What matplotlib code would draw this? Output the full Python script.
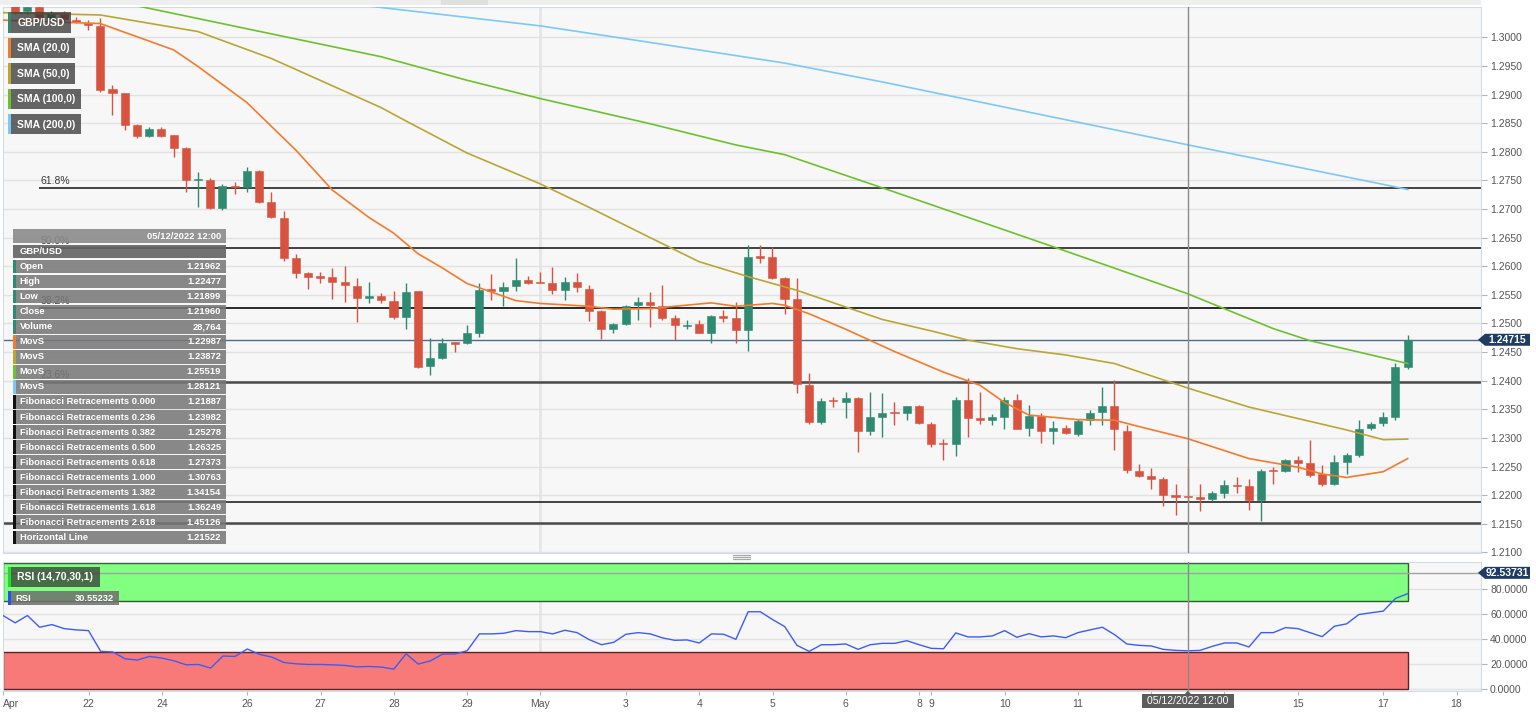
import numpy as np
import matplotlib

matplotlib.use('agg')
import matplotlib.pyplot as plt
from matplotlib.patches import Rectangle, Polygon

plt.rcParams['font.family'] = ['Liberation Sans', 'DejaVu Sans']

# 4h candles, index 0 = 22 Apr 00:00, first candle at index -6
first_idx = -6
opens = [1.3058, 1.3046, 1.3053, 1.3030, 1.3042, 1.3030, 1.3025, 1.3020, 1.2909, 1.2902,
         1.2846, 1.2828, 1.2839, 1.2829, 1.2806, 1.2750, 1.2751, 1.2701, 1.2741, 1.2739,
         1.2766, 1.2713, 1.2685, 1.2615, 1.2588, 1.2582, 1.2581, 1.2572, 1.2566, 1.2545,
         1.2548, 1.2539, 1.2512, 1.2556, 1.2426, 1.2439, 1.2467, 1.2466, 1.2484, 1.2560,
         1.2556, 1.2565, 1.2576, 1.2573, 1.2571, 1.2559, 1.2573, 1.2561, 1.2521, 1.2490,
         1.2499, 1.2532, 1.2537, 1.2530, 1.2509, 1.2496, 1.2499, 1.2484, 1.2513, 1.2510,
         1.2488, 1.2618, 1.2617, 1.2580, 1.2542, 1.2393, 1.2328, 1.2365, 1.2363, 1.2369,
         1.2313, 1.2337, 1.2345, 1.2343, 1.2355, 1.2325, 1.2291, 1.2289, 1.2366, 1.2334,
         1.2331, 1.2336, 1.2367, 1.2317, 1.2338, 1.2313, 1.2318, 1.2307, 1.2331, 1.2345,
         1.2355, 1.2313, 1.2242, 1.2234, 1.2228, 1.2201, 1.21962, 1.2195, 1.2194, 1.2204,
         1.2217, 1.2216, 1.2191, 1.2244, 1.2242, 1.2261, 1.2256, 1.2237, 1.2219, 1.2258,
         1.2270, 1.2318, 1.2326, 1.2336, 1.2424]
highs = [1.3070, 1.3062, 1.3076, 1.3046, 1.3046, 1.3035, 1.3030, 1.3034, 1.2917, 1.2902,
         1.2848, 1.2844, 1.2844, 1.2830, 1.2809, 1.2765, 1.2754, 1.2743, 1.2747, 1.2774,
         1.2768, 1.2730, 1.2697, 1.2621, 1.2590, 1.2590, 1.2597, 1.2601, 1.2579, 1.2573,
         1.2553, 1.2556, 1.2570, 1.2557, 1.2475, 1.2474, 1.2468, 1.2497, 1.2570, 1.2587,
         1.2573, 1.2615, 1.2583, 1.2590, 1.2599, 1.2582, 1.2588, 1.2567, 1.2523, 1.2500,
         1.2533, 1.2547, 1.2555, 1.2567, 1.2514, 1.2506, 1.2506, 1.2515, 1.2523, 1.2538,
         1.2637, 1.2637, 1.2634, 1.2581, 1.2579, 1.2414, 1.2369, 1.2372, 1.2380, 1.2372,
         1.2380, 1.2378, 1.2363, 1.2356, 1.2357, 1.2328, 1.2299, 1.2372, 1.2405, 1.2380,
         1.2341, 1.2372, 1.2376, 1.2357, 1.2343, 1.2330, 1.2322, 1.2333, 1.2348, 1.2389,
         1.2401, 1.2322, 1.2255, 1.2248, 1.2232, 1.2219, 1.22477, 1.2220, 1.2207, 1.2226,
         1.2232, 1.2229, 1.2245, 1.2249, 1.2264, 1.2268, 1.2297, 1.2252, 1.2271, 1.2274,
         1.2331, 1.2328, 1.2345, 1.2431, 1.2480]
lows = [1.3040, 1.3040, 1.3033, 1.3027, 1.3028, 1.3025, 1.3012, 1.2904, 1.2864, 1.2838,
        1.2824, 1.2826, 1.2826, 1.2791, 1.2730, 1.2704, 1.2700, 1.2698, 1.2727, 1.2730,
        1.2711, 1.2684, 1.2609, 1.2580, 1.2561, 1.2570, 1.2542, 1.2537, 1.2503, 1.2535,
        1.2536, 1.2508, 1.2491, 1.2422, 1.2410, 1.2438, 1.2450, 1.2464, 1.2477, 1.2541,
        1.2530, 1.2556, 1.2569, 1.2571, 1.2552, 1.2541, 1.2555, 1.2504, 1.2473, 1.2484,
        1.2497, 1.2506, 1.2493, 1.2506, 1.2471, 1.2490, 1.2484, 1.2466, 1.2503, 1.2466,
        1.2452, 1.2606, 1.2577, 1.2517, 1.2379, 1.2325, 1.2325, 1.2354, 1.2334, 1.2276,
        1.2306, 1.2301, 1.2322, 1.2332, 1.2324, 1.2284, 1.2261, 1.2268, 1.2301, 1.2325,
        1.2323, 1.2316, 1.2316, 1.2303, 1.2291, 1.2290, 1.2307, 1.2304, 1.2322, 1.2323,
        1.2279, 1.2239, 1.2231, 1.2210, 1.2181, 1.2165, 1.21899, 1.2173, 1.2190, 1.2195,
        1.2203, 1.2174, 1.2155, 1.2220, 1.2240, 1.2240, 1.2232, 1.2216, 1.2218, 1.2237,
        1.2267, 1.2314, 1.2320, 1.2332, 1.2421]
closes = [1.3044, 1.3053, 1.3035, 1.3042, 1.3032, 1.3026, 1.3022, 1.2908, 1.2903, 1.2847,
          1.2828, 1.2839, 1.2828, 1.2806, 1.2751, 1.2752, 1.2701, 1.2740, 1.2738, 1.2766,
          1.2713, 1.2686, 1.2614, 1.2588, 1.2581, 1.2580, 1.2573, 1.2567, 1.2545, 1.2548,
          1.2541, 1.2512, 1.2555, 1.2424, 1.2439, 1.2466, 1.2465, 1.2483, 1.2559, 1.2557,
          1.2564, 1.2576, 1.2571, 1.2571, 1.2559, 1.2573, 1.2563, 1.2521, 1.2490, 1.2499,
          1.2531, 1.2538, 1.2532, 1.2510, 1.2497, 1.2498, 1.2484, 1.2513, 1.2510, 1.2488,
          1.2616, 1.2614, 1.2580, 1.2542, 1.2395, 1.2328, 1.2365, 1.2364, 1.2369, 1.2313,
          1.2336, 1.2344, 1.2343, 1.2355, 1.2326, 1.2290, 1.2289, 1.2366, 1.2334, 1.2332,
          1.2336, 1.2367, 1.2316, 1.2338, 1.2313, 1.2317, 1.2308, 1.2330, 1.2344, 1.2355,
          1.2315, 1.2244, 1.2233, 1.2229, 1.2201, 1.2197, 1.21960, 1.2194, 1.2204, 1.2217,
          1.2216, 1.2191, 1.2242, 1.2242, 1.2261, 1.2256, 1.2235, 1.2219, 1.2258, 1.2270,
          1.2316, 1.2325, 1.2336, 1.2424, 1.24715]

# moving averages read at a few candle positions
sma20_idx = [-7, 1, 7, 9, 13, 17, 20, 23, 25, 27, 29, 31, 33, 35, 37, 41, 43, 46, 49, 51,
             53, 56, 57, 59, 62, 66, 70, 73, 75, 77, 81, 84, 86, 90, 95, 99, 101, 103, 106, 108]
sma20_val = [1.3030, 1.3024, 1.2978, 1.2949, 1.2886, 1.2803, 1.2733, 1.2685, 1.2658, 1.2622,
             1.2597, 1.2570, 1.2555, 1.2540, 1.2535, 1.2530, 1.2525, 1.2526, 1.2532, 1.2536,
             1.2530, 1.2535, 1.2532, 1.2517, 1.2490, 1.2451, 1.2415, 1.2392, 1.2362, 1.2340,
             1.2332, 1.2331, 1.2320, 1.22987, 1.2264, 1.2249, 1.2237, 1.2231, 1.2241, 1.2264]
sma50_idx = [-7, 1, 9, 15, 24, 26, 31, 37, 41, 46, 50, 54, 58, 65, 69, 72, 76, 80, 84, 90,
             95, 99, 103, 106, 108]
sma50_val = [1.3043, 1.3039, 1.3010, 1.2963, 1.2877, 1.2854, 1.2798, 1.2744, 1.2703, 1.2650,
             1.2608, 1.2582, 1.2558, 1.2507, 1.2487, 1.2471, 1.2456, 1.2445, 1.2430, 1.23872,
             1.2354, 1.2334, 1.2314, 1.2297, 1.2298]
sma100_idx = [4, 15, 24, 31, 37, 46, 53, 57, 65, 79, 90, 97, 100, 108]
sma100_val = [1.3055, 1.3006, 1.2966, 1.2925, 1.2893, 1.2849, 1.2812, 1.2795, 1.2737, 1.2634,
              1.25519, 1.2491, 1.2470, 1.2430]
sma200_idx = [17, 24, 37, 46, 57, 65, 90, 106, 108]
sma200_val = [1.3070, 1.3052, 1.3020, 1.2991, 1.2955, 1.2922, 1.28121, 1.2743, 1.2734]

rsi_first = -7
rsi = [58.6, 52.8, 58.6, 49.3, 51.4, 48.2, 47.2, 46.6, 30.1, 29.6,
       24.2, 23.2, 26.1, 24.8, 22.6, 19.4, 19.7, 16.8, 26.4, 26.1,
       32.0, 27.7, 25.6, 21.3, 20.2, 19.7, 19.7, 19.4, 18.9, 17.8,
       18.1, 17.6, 16.0, 28.2, 20.0, 22.6, 28.0, 28.0, 30.6, 44.0,
       44.0, 44.5, 46.6, 45.8, 45.8, 44.0, 46.9, 45.0, 39.4, 35.4,
       37.3, 43.7, 45.0, 44.0, 40.8, 38.9, 39.2, 36.8, 44.0, 43.7,
       39.7, 61.6, 61.6, 55.4, 49.8, 34.9, 30.1, 35.4, 35.4, 36.0,
       31.7, 35.4, 36.5, 36.5, 38.6, 35.4, 32.5, 32.2, 44.8, 41.6,
       41.6, 42.4, 46.6, 41.3, 44.2, 41.6, 42.4, 41.0, 45.0, 47.2,
       49.3, 43.4, 36.0, 34.9, 34.4, 31.7, 30.9, 30.55232, 30.9, 34.1,
       36.8, 36.8, 33.6, 45.0, 45.0, 49.0, 48.2, 45.0, 41.8, 50.1,
       52.0, 59.4, 60.8, 62.1, 72.2, 76.0]
rsi_mark = 92.53731

fib_anchor = -4
fib_labels = ['0.0%', '23.6%', '38.2%', '50.0%', '61.8%']
fib_levels = [1.21887, 1.23982, 1.25278, 1.26325, 1.27373]
hline_level = 1.21522
last_price = 1.24715
cross_idx = 90
cross_label = '05/12/2022 12:00'

# 12 and 13 sit under the crosshair date tag, so their labels are not shown
tick_pos = [-7, 0, 6, 13, 19, 25, 31, 37, 44, 50, 56, 62, 68, 69, 75, 81, 87, 93, 99, 106, 112]
tick_lab = ['Apr', '22', '24', '26', '27', '28', '29', 'May', '3', '4', '5', '6', '8', '9',
            '10', '11', '', '', '15', '17', '18']

legend_names = ['GBP/USD', 'SMA (20,0)', 'SMA (50,0)', 'SMA (100,0)', 'SMA (200,0)']
table_names = ['Open', 'High', 'Low', 'Close', 'Volume', 'MovS', 'MovS', 'MovS', 'MovS',
               'Fibonacci Retracements 0.000', 'Fibonacci Retracements 0.236',
               'Fibonacci Retracements 0.382', 'Fibonacci Retracements 0.500',
               'Fibonacci Retracements 0.618', 'Fibonacci Retracements 1.000',
               'Fibonacci Retracements 1.382', 'Fibonacci Retracements 1.618',
               'Fibonacci Retracements 2.618', 'Horizontal Line']
table_values = ['1.21962', '1.22477', '1.21899', '1.21960', '28,764', '1.22987', '1.23872',
                '1.25519', '1.28121', '1.21887', '1.23982', '1.25278', '1.26325', '1.27373',
                '1.30763', '1.34154', '1.36249', '1.45126', '1.21522']

RED = '#d8533f'
GREEN = '#2e8a70'
C_SMA = ['#f47a2c', '#b9a634', '#6cc12c', '#7cc8f6']
C_CANDLE = '#2e8a70'

W, H = 1536, 720
fig = plt.figure(figsize=(W / 100, H / 100), dpi=100)
fig.patch.set_facecolor('white')


def fbox(x0, y0, x1, y1):
    return [x0 / W, 1 - y1 / H, (x1 - x0) / W, (y1 - y0) / H]


def fig_rect(x0, y0, x1, y1, **kw):
    r = Rectangle((x0 / W, 1 - y1 / H), (x1 - x0) / W, (y1 - y0) / H,
                  transform=fig.transFigure, **kw)
    fig.add_artist(r)
    return r


def fig_text(x, y, s, **kw):
    return fig.text(x / W, 1 - y / H, s, **kw)


ax = fig.add_axes(fbox(3, 7.3, 1481, 552.7))
ax2 = fig.add_axes(fbox(3, 562.2, 1481, 690.5))
for a in (ax, ax2):
    a.set_facecolor('#f7f7f7')
    a.set_xlim(-6.96, 114.0)
    for s in a.spines.values():
        s.set_color('#d3dbe7')
    a.axvline(37, color='#e6e6e6', lw=2, zorder=0.5)
    a.yaxis.tick_right()
    a.tick_params(axis='y', length=4, width=0.8, color='#a9b6c8', labelsize=7.5,
                  labelcolor='#555555', pad=2.5)
ax.set_ylim(1.20995, 1.30524)

# candles
idx = np.arange(first_idx, first_idx + len(opens))
o, h, l, c = map(np.array, (opens, highs, lows, closes))
col = np.where(c >= o, GREEN, RED)
ax.vlines(idx, l, h, colors=col, lw=1.0, zorder=3)
body = np.maximum(np.abs(c - o), 0.00022)
ax.bar(idx, body, bottom=np.minimum(o, c), width=0.66, color=col, edgecolor=col,
       lw=0.4, zorder=4)

for xs, ys, cc in zip([sma20_idx, sma50_idx, sma100_idx, sma200_idx],
                      [sma20_val, sma50_val, sma100_val, sma200_val], C_SMA):
    ax.plot(xs, ys, color=cc, lw=1.2, zorder=5)

# fib levels + horizontal line
fib_style = {'0.0%': ('#111111', 1.1), '23.6%': ('#4a4a4a', 1.8), '38.2%': ('#2a2a2a', 1.4),
             '50.0%': ('#111111', 1.1), '61.8%': ('#111111', 1.1)}
for lab, lvl in zip(fib_labels, fib_levels):
    cc, lw = fib_style[lab]
    ax.hlines(lvl, fib_anchor, 114.0, color=cc, lw=lw, zorder=2)
    ax.text(fib_anchor + 0.1, lvl + 0.00025, lab, fontsize=7.5, color='#3a3a3a',
            ha='left', va='bottom', zorder=2)
ax.axhline(hline_level, color='#4a4a4a', lw=1.8, zorder=2)
ax.axhline(last_price, color='#4f6b8d', lw=1.0, zorder=2)
ax.axvline(cross_idx, color='#8a8a8a', lw=1.0, zorder=6)

ax.set_yticks(np.arange(1.21, 1.30001, 0.005))
ax.set_yticklabels(['%.4f' % v for v in np.arange(1.21, 1.30001, 0.005)])
ax.grid(axis='y', color='#e2e2e2', lw=1)
ax.set_axisbelow(True)
ax.tick_params(axis='x', bottom=False, labelbottom=False)

# RSI panel
ax2.set_ylim(-1, 101)
x_left = ax2.get_xlim()[0]
ax2.add_patch(Rectangle((x_left, 70), idx[-1] - x_left, 30, fc='#80ff80', ec='#2f5f2f',
                        lw=1.0, zorder=1))
ax2.add_patch(Rectangle((x_left, 0), idx[-1] - x_left, 30, fc='#f87a78', ec='#5e2424',
                        lw=1.0, zorder=1))
ax2.axhline(rsi_mark, color='#a3a3a3', lw=1.0, zorder=2)
ax2.plot(np.arange(rsi_first, rsi_first + len(rsi)), rsi, color='#3d5cf5', lw=1.0, zorder=3)
ax2.axvline(cross_idx, color='#8a8a8a', lw=1.0, zorder=4)
ax2.set_yticks([0, 20, 40, 60, 80])
ax2.set_yticklabels(['%.4f' % v for v in [0, 20, 40, 60, 80]])
ax2.grid(axis='y', color='#e2e2e2', lw=1)
ax2.set_axisbelow(True)
ax2.set_xticks(tick_pos)
ax2.set_xticklabels(tick_lab)
ax2.tick_params(axis='x', length=3, width=0.8, color='#a9b6c8', labelsize=7.5,
                labelcolor='#555555', pad=3)
ax2.get_xticklabels()[0].set_ha('left')

# top strip and panel grip
fig_rect(0, 0, 1481, 4.5, fc='#efefef', ec='none')
fig_rect(441, 0, 488, 4.5, fc='#e0e0e0', ec='none')
for gy in (555.2, 557.2, 559.2):
    fig.add_artist(plt.Line2D([733 / W, 750 / W], [1 - gy / H] * 2, color='#a8a8a8',
                              lw=0.9, transform=fig.transFigure))

# legend boxes
bar_cols = [C_CANDLE] + C_SMA
box_w = [62.4, 66.7, 66.7, 72.4, 72.4]
for k, (name, bc, bw) in enumerate(zip(legend_names, bar_cols, box_w)):
    y0 = 12.3 + k * 25.4
    fig_rect(8.3, y0, 8.3 + bw, y0 + 20.5, fc='#333333', alpha=0.75, ec='none', zorder=20)
    fig_rect(8.3, y0, 11.3, y0 + 20.5, fc=bc, ec='none', zorder=21)
    fig_text(17.3, y0 + 10.6, name, color='white', fontsize=7.5, fontweight='bold',
             va='center', ha='left', zorder=22)

# data window table
ty0, tpitch, th = 229.5, 15.05, 13.8
tx0, tx1 = 12.7, 226
fig_rect(tx0, ty0, tx1, ty0 + th, fc='#8b8b8b', alpha=0.9, ec='none', zorder=20)
fig_text(tx1 - 5, ty0 + th / 2, cross_label, color='white', fontsize=6.75,
         fontweight='bold', ha='right', va='center', zorder=22)
fig_rect(tx0, ty0 + tpitch, tx1, ty0 + tpitch + th, fc='#636363', alpha=0.9, ec='none',
         zorder=20)
fig_text(tx0 + 7, ty0 + tpitch + th / 2, legend_names[0], color='white', fontsize=6.75,
         fontweight='bold', ha='left', va='center', zorder=22)
row_cols = [C_CANDLE] * 5 + C_SMA + ['#111111'] * 10
for k, (name, val, bc) in enumerate(zip(table_names, table_values, row_cols)):
    y0 = ty0 + (k + 2) * tpitch
    fig_rect(tx0, y0, tx1, y0 + th, fc='#787878', alpha=0.87, ec='none', zorder=20)
    fig_rect(tx0, y0, tx0 + 3, y0 + th, fc=bc, ec='none', zorder=21)
    fig_text(tx0 + 7, y0 + th / 2, name, color='white', fontsize=6.75, fontweight='bold',
             ha='left', va='center', zorder=22)
    fig_text(tx1 - 5, y0 + th / 2, val, color='white', fontsize=6.75, fontweight='bold',
             ha='right', va='center', zorder=22)

# RSI legend boxes
fig_rect(8.3, 566.7, 100, 586.7, fc='#333333', alpha=0.72, ec='none', zorder=20)
fig_rect(8.3, 566.7, 11.3, 586.7, fc='#22dd22', ec='none', zorder=21)
fig_text(17.3, 577, 'RSI (14,70,30,1)', color='white', fontsize=7.5, fontweight='bold',
         ha='left', va='center', zorder=22)
fig_rect(8.3, 591, 119, 605, fc='#6e6e6e', alpha=0.85, ec='none', zorder=20)
fig_rect(8.3, 591, 11.3, 605, fc='#2b4cff', ec='none', zorder=21)
fig_text(15, 598.3, 'RSI', color='white', fontsize=6.75, fontweight='bold',
         ha='left', va='center', zorder=22)
fig_text(114, 598.3, '%.5f' % rsi[cross_idx - rsi_first], color='white', fontsize=6.75,
         fontweight='bold', ha='right', va='center', zorder=22)


def value_tag(a, value, text):
    yd = a.transData.transform((0, value))[1]
    y = H - yd
    pts = [(1478, y), (1485, y - 6), (1530, y - 6), (1530, y + 6), (1485, y + 6)]
    fig.add_artist(Polygon([(px / W, 1 - py / H) for px, py in pts], closed=True,
                           transform=fig.transFigure, fc='#1f3d62', ec='none', zorder=20))
    fig_text(1507, y, text, color='white', fontsize=7.5, fontweight='bold',
             ha='center', va='center', zorder=22)


value_tag(ax, last_price, '%.5f' % last_price)
value_tag(ax2, rsi_mark, '%.5f' % rsi_mark)

# crosshair date tag
xc = ax2.transData.transform((cross_idx, 0))[0]
fig.add_artist(Polygon([((xc - 3) / W, 1 - 694 / H), (xc / W, 1 - 690.5 / H),
                        ((xc + 3) / W, 1 - 694 / H)], closed=True,
                       transform=fig.transFigure, fc='#5c5c5c', ec='none', zorder=20))
fig_rect(xc - 46, 694, xc + 46, 708, fc='#5c5c5c', ec='none', zorder=20)
fig_text(xc, 701, cross_label, color='white', fontsize=7.5, ha='center', va='center',
         zorder=22)

fig.savefig('out.png', dpi=100)
plt.close(fig)
